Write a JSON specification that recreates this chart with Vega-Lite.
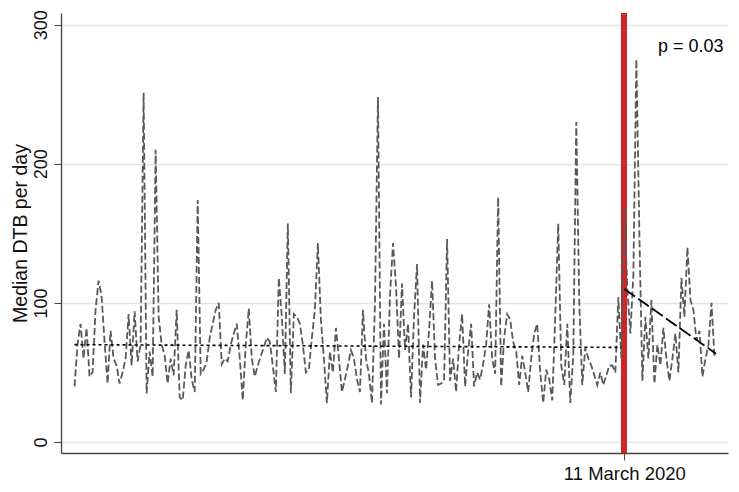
{
  "$schema": "https://vega.github.io/schema/vega-lite/v6.json",
  "width": 667,
  "height": 440,
  "autosize": "none",
  "padding": {"left": 61, "top": 13, "right": 11, "bottom": 39},
  "background": "white",
  "config": {
    "font": "Liberation Sans",
    "view": {"stroke": null}
  },
  "datasets": {
    "series": [
      {"day": -366, "dtb": 40}, {"day": -364, "dtb": 70}, {"day": -362, "dtb": 85}, {"day": -360, "dtb": 60},
      {"day": -358, "dtb": 82}, {"day": -356, "dtb": 47}, {"day": -354, "dtb": 50}, {"day": -352, "dtb": 95},
      {"day": -350, "dtb": 116}, {"day": -348, "dtb": 105}, {"day": -346, "dtb": 72}, {"day": -344, "dtb": 42},
      {"day": -342, "dtb": 80}, {"day": -340, "dtb": 60}, {"day": -338, "dtb": 55}, {"day": -336, "dtb": 42},
      {"day": -334, "dtb": 50}, {"day": -332, "dtb": 60}, {"day": -330, "dtb": 92}, {"day": -328, "dtb": 55},
      {"day": -326, "dtb": 94}, {"day": -324, "dtb": 58}, {"day": -322, "dtb": 70}, {"day": -320, "dtb": 251},
      {"day": -318, "dtb": 35}, {"day": -316, "dtb": 65}, {"day": -314, "dtb": 47}, {"day": -312, "dtb": 210},
      {"day": -310, "dtb": 90}, {"day": -308, "dtb": 70}, {"day": -306, "dtb": 62}, {"day": -304, "dtb": 42},
      {"day": -302, "dtb": 60}, {"day": -300, "dtb": 48}, {"day": -298, "dtb": 95}, {"day": -296, "dtb": 32},
      {"day": -294, "dtb": 30}, {"day": -292, "dtb": 55}, {"day": -290, "dtb": 66}, {"day": -288, "dtb": 45},
      {"day": -286, "dtb": 36}, {"day": -284, "dtb": 174}, {"day": -282, "dtb": 49}, {"day": -280, "dtb": 52},
      {"day": -278, "dtb": 58}, {"day": -276, "dtb": 75}, {"day": -274, "dtb": 85}, {"day": -272, "dtb": 95},
      {"day": -270, "dtb": 100}, {"day": -268, "dtb": 56}, {"day": -266, "dtb": 60}, {"day": -264, "dtb": 58},
      {"day": -262, "dtb": 70}, {"day": -260, "dtb": 78}, {"day": -258, "dtb": 85}, {"day": -256, "dtb": 60},
      {"day": -254, "dtb": 30}, {"day": -252, "dtb": 70}, {"day": -250, "dtb": 96}, {"day": -248, "dtb": 60},
      {"day": -246, "dtb": 47}, {"day": -244, "dtb": 55}, {"day": -242, "dtb": 62}, {"day": -240, "dtb": 68},
      {"day": -238, "dtb": 75}, {"day": -236, "dtb": 72}, {"day": -234, "dtb": 55}, {"day": -232, "dtb": 36},
      {"day": -230, "dtb": 118}, {"day": -228, "dtb": 90}, {"day": -226, "dtb": 49}, {"day": -224, "dtb": 157},
      {"day": -222, "dtb": 35}, {"day": -220, "dtb": 92}, {"day": -218, "dtb": 90}, {"day": -216, "dtb": 85},
      {"day": -214, "dtb": 70}, {"day": -212, "dtb": 50}, {"day": -210, "dtb": 52}, {"day": -208, "dtb": 75},
      {"day": -206, "dtb": 95}, {"day": -204, "dtb": 143}, {"day": -202, "dtb": 88}, {"day": -200, "dtb": 60},
      {"day": -198, "dtb": 28}, {"day": -196, "dtb": 65}, {"day": -194, "dtb": 50}, {"day": -192, "dtb": 82},
      {"day": -190, "dtb": 60}, {"day": -188, "dtb": 36}, {"day": -186, "dtb": 45}, {"day": -184, "dtb": 55},
      {"day": -182, "dtb": 66}, {"day": -180, "dtb": 60}, {"day": -178, "dtb": 45}, {"day": -176, "dtb": 36},
      {"day": -174, "dtb": 95}, {"day": -172, "dtb": 60}, {"day": -170, "dtb": 49}, {"day": -168, "dtb": 28},
      {"day": -166, "dtb": 100}, {"day": -164, "dtb": 248}, {"day": -162, "dtb": 27}, {"day": -160, "dtb": 85},
      {"day": -158, "dtb": 35}, {"day": -156, "dtb": 105}, {"day": -154, "dtb": 143}, {"day": -152, "dtb": 112},
      {"day": -150, "dtb": 60}, {"day": -148, "dtb": 114}, {"day": -146, "dtb": 66}, {"day": -144, "dtb": 85},
      {"day": -142, "dtb": 32}, {"day": -140, "dtb": 90}, {"day": -138, "dtb": 128}, {"day": -136, "dtb": 28},
      {"day": -134, "dtb": 70}, {"day": -132, "dtb": 52}, {"day": -130, "dtb": 80}, {"day": -128, "dtb": 116},
      {"day": -126, "dtb": 60}, {"day": -124, "dtb": 41}, {"day": -122, "dtb": 42}, {"day": -120, "dtb": 44},
      {"day": -118, "dtb": 146}, {"day": -116, "dtb": 44}, {"day": -114, "dtb": 60}, {"day": -112, "dtb": 36},
      {"day": -110, "dtb": 70}, {"day": -108, "dtb": 92}, {"day": -106, "dtb": 40}, {"day": -104, "dtb": 65},
      {"day": -102, "dtb": 85}, {"day": -100, "dtb": 40}, {"day": -98, "dtb": 50}, {"day": -96, "dtb": 45},
      {"day": -94, "dtb": 56}, {"day": -92, "dtb": 70}, {"day": -90, "dtb": 99}, {"day": -88, "dtb": 60},
      {"day": -86, "dtb": 49}, {"day": -84, "dtb": 176}, {"day": -82, "dtb": 40}, {"day": -80, "dtb": 75},
      {"day": -78, "dtb": 92}, {"day": -76, "dtb": 88}, {"day": -74, "dtb": 72}, {"day": -72, "dtb": 65},
      {"day": -70, "dtb": 41}, {"day": -68, "dtb": 62}, {"day": -66, "dtb": 50}, {"day": -64, "dtb": 36},
      {"day": -62, "dtb": 60}, {"day": -60, "dtb": 78}, {"day": -58, "dtb": 85}, {"day": -56, "dtb": 50},
      {"day": -54, "dtb": 28}, {"day": -52, "dtb": 52}, {"day": -50, "dtb": 45}, {"day": -48, "dtb": 30},
      {"day": -46, "dtb": 90}, {"day": -44, "dtb": 157}, {"day": -42, "dtb": 55}, {"day": -40, "dtb": 41},
      {"day": -38, "dtb": 85}, {"day": -36, "dtb": 28}, {"day": -34, "dtb": 62}, {"day": -32, "dtb": 230},
      {"day": -30, "dtb": 100}, {"day": -28, "dtb": 41}, {"day": -26, "dtb": 68}, {"day": -24, "dtb": 60},
      {"day": -22, "dtb": 55}, {"day": -20, "dtb": 48}, {"day": -18, "dtb": 41}, {"day": -16, "dtb": 50},
      {"day": -14, "dtb": 41}, {"day": -12, "dtb": 48}, {"day": -10, "dtb": 55}, {"day": -8, "dtb": 55},
      {"day": -6, "dtb": 50}, {"day": -4, "dtb": 104}, {"day": -2, "dtb": 60}, {"day": 0, "dtb": 169},
      {"day": 2, "dtb": 110}, {"day": 4, "dtb": 78}, {"day": 6, "dtb": 120}, {"day": 8, "dtb": 275},
      {"day": 10, "dtb": 150}, {"day": 12, "dtb": 44}, {"day": 14, "dtb": 90}, {"day": 16, "dtb": 60},
      {"day": 18, "dtb": 102}, {"day": 20, "dtb": 42}, {"day": 22, "dtb": 70}, {"day": 24, "dtb": 55},
      {"day": 26, "dtb": 82}, {"day": 28, "dtb": 60}, {"day": 30, "dtb": 44}, {"day": 32, "dtb": 60},
      {"day": 34, "dtb": 78}, {"day": 36, "dtb": 50}, {"day": 38, "dtb": 118}, {"day": 40, "dtb": 90},
      {"day": 42, "dtb": 140}, {"day": 44, "dtb": 102}, {"day": 46, "dtb": 95}, {"day": 48, "dtb": 73},
      {"day": 50, "dtb": 80}, {"day": 52, "dtb": 47}, {"day": 54, "dtb": 60}, {"day": 56, "dtb": 70},
      {"day": 58, "dtb": 100}, {"day": 60, "dtb": 61}
    ],
    "pre": [{"day": -366, "fit": 70}, {"day": -2, "fit": 68}],
    "post": [{"day": 0, "fit": 110}, {"day": 61, "fit": 63.5}]
  },
  "encoding": {
    "x": {
      "field": "day",
      "type": "quantitative",
      "scale": {"domain": [-375, 69], "nice": false, "zero": false},
      "axis": {
        "values": [0],
        "labelExpr": "'11 March 2020'",
        "title": null,
        "grid": false,
        "domainColor": "#444444",
        "domainWidth": 1.3,
        "tickColor": "#444444",
        "tickSize": 7,
        "labelFontSize": 18.5,
        "labelColor": "#111111",
        "labelPadding": 4,
        "labelFont": "Liberation Sans"
      }
    },
    "y": {
      "type": "quantitative",
      "scale": {"domain": [-7.9, 308.4], "nice": false, "zero": false},
      "axis": {
        "values": [0, 100, 200, 300],
        "title": "Median DTB per day",
        "titleFontSize": 19.5,
        "titleFontWeight": "normal",
        "titleColor": "#111111",
        "titleFont": "Liberation Sans",
        "titlePadding": 2,
        "labelAngle": -90,
        "labelAlign": "center",
        "labelBaseline": "bottom",
        "labelFontSize": 18,
        "labelColor": "#111111",
        "labelPadding": 4,
        "labelFont": "Liberation Sans",
        "grid": true,
        "gridColor": "#e4e4e4",
        "gridWidth": 1.5,
        "domainColor": "#444444",
        "domainWidth": 1.3,
        "tickColor": "#444444",
        "tickSize": 7
      }
    }
  },
  "layer": [
    {
      "data": {"name": "series"},
      "mark": {"type": "rule", "color": "#d42424", "strokeWidth": 5},
      "encoding": {"x": {"datum": 0}, "y": null}
    },
    {
      "data": {"name": "series"},
      "mark": {"type": "line", "color": "#595959", "strokeWidth": 1.8, "strokeDash": [7, 3]},
      "encoding": {"y": {"field": "dtb"}}
    },
    {
      "data": {"name": "pre"},
      "mark": {"type": "line", "color": "#000000", "strokeWidth": 1.6, "strokeDash": [3, 3]},
      "encoding": {"y": {"field": "fit"}}
    },
    {
      "data": {"name": "post"},
      "mark": {"type": "line", "color": "#000000", "strokeWidth": 1.8, "strokeDash": [13, 4]},
      "encoding": {"y": {"field": "fit"}}
    },
    {
      "data": {"values": [{"day": 66, "v": 284, "t": "p = 0.03"}]},
      "mark": {"type": "text", "align": "right", "baseline": "middle", "fontSize": 18, "color": "#000000", "font": "Liberation Sans"},
      "encoding": {"y": {"field": "v"}, "text": {"field": "t"}}
    }
  ]
}
